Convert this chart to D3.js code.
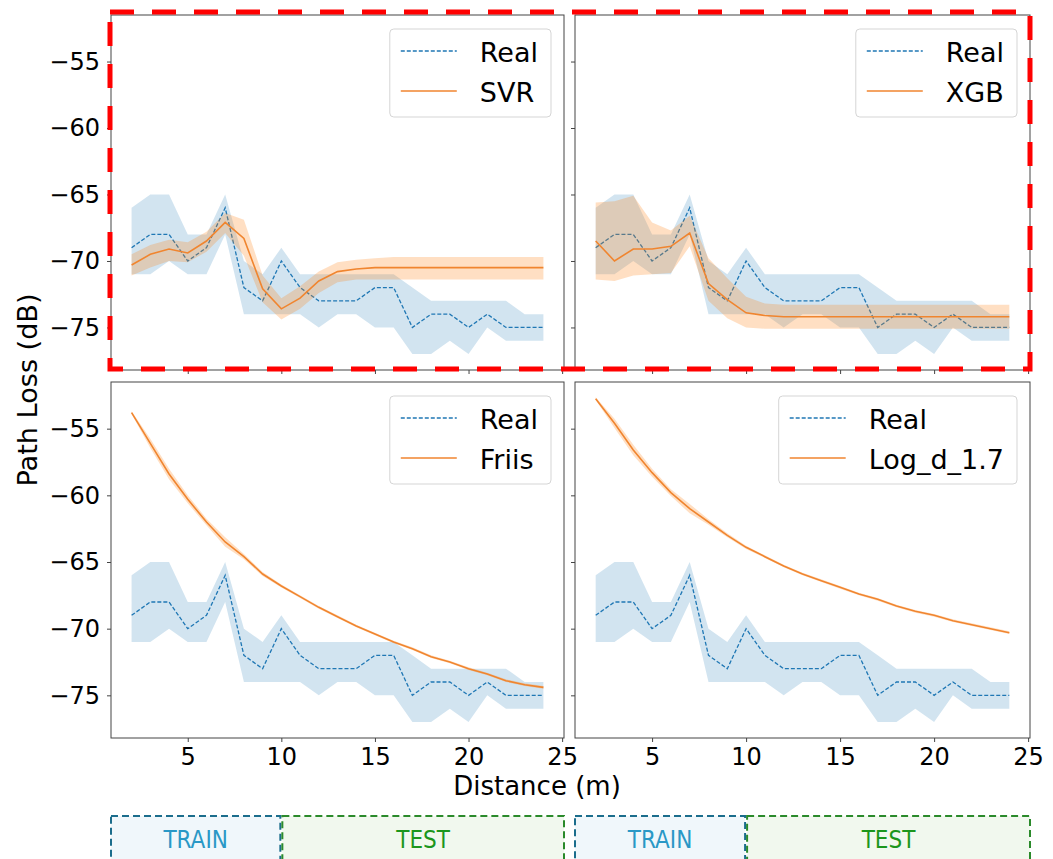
<!DOCTYPE html>
<html>
<head>
<meta charset="utf-8">
<script src="https://cdn.jsdelivr.net/npm/d3@7"></script>
<style>
  body { margin: 0; background: #fff; }
  svg { display: block; font-family: "DejaVu Sans", sans-serif; }
</style>
</head>
<body>
<div id="chart"></div>
<script>
// distances (m)
var distance = [2, 3, 4, 5, 6, 7, 8, 9, 10, 11, 12, 13, 14, 15, 16, 17, 18, 19, 20, 21, 22, 23, 24];

// measured path loss (dB)
var realMean = [-69, -68, -68, -70, -69, -66, -72, -73, -70, -72, -73, -73, -73, -72, -72, -75, -74, -74, -75, -74, -75, -75, -75];
var realHigh = [-66, -65, -65, -68, -68, -65, -70, -71, -69, -71, -71, -71, -71, -71, -71, -72, -73, -73, -73, -73, -73, -74, -74];
var realLow  = [-71, -71, -70, -71, -71, -68, -74, -74, -74, -74, -75, -74, -74, -75, -75, -77, -77, -76, -77, -75, -76, -76, -76];

// SVR
var svrMean = [-70.3, -69.5, -69.1, -69.4, -68.5, -67.1, -68.3, -72.1, -73.6, -72.8, -71.5, -70.8, -70.6, -70.5, -70.5, -70.5, -70.5, -70.5, -70.5, -70.5, -70.5, -70.5, -70.5];
var svrHigh = [-69.5, -68.8, -68.4, -68.6, -67.8, -66.4, -66.9, -71.1, -72.8, -71.9, -70.8, -70.1, -69.9, -69.8, -69.7, -69.7, -69.7, -69.7, -69.7, -69.7, -69.7, -69.7, -69.7];
var svrLow  = [-71.1, -70.5, -70.0, -70.1, -69.3, -67.9, -69.6, -73.1, -74.4, -73.6, -72.4, -71.6, -71.4, -71.4, -71.4, -71.4, -71.4, -71.4, -71.4, -71.4, -71.4, -71.4, -71.4];

// XGB
var xgbMean = [-68.5, -70.0, -69.1, -69.1, -68.9, -67.9, -71.7, -72.9, -73.9, -74.1, -74.2, -74.2, -74.2, -74.2, -74.2, -74.2, -74.2, -74.2, -74.2, -74.2, -74.2, -74.2, -74.2];
var xgbHigh = [-65.6, -65.5, -65.1, -67.1, -67.7, -66.6, -69.8, -71.3, -72.7, -73.2, -73.3, -73.3, -73.3, -73.3, -73.3, -73.3, -73.3, -73.3, -73.3, -73.3, -73.3, -73.3, -73.3];
var xgbLow  = [-71.4, -71.5, -71.1, -71.0, -70.9, -68.9, -73.0, -74.3, -75.0, -75.1, -75.1, -75.1, -75.1, -75.1, -75.1, -75.1, -75.1, -75.1, -75.1, -75.1, -75.1, -75.1, -75.1];

// Friis
var friisMean = [-53.8, -56.1, -58.4, -60.3, -62.0, -63.5, -64.6, -65.9, -66.8, -67.6, -68.4, -69.1, -69.8, -70.4, -71.0, -71.5, -72.1, -72.5, -73.0, -73.4, -73.9, -74.2, -74.4];
// Log-distance, exponent 1.7
var logMean = [-52.75, -54.6, -56.6, -58.3, -59.8, -61.0, -62.0, -63.0, -63.9, -64.6, -65.3, -65.9, -66.4, -66.9, -67.4, -67.8, -68.3, -68.7, -69.0, -69.4, -69.7, -70.0, -70.3];
// half width of the thin bands around the two formula curves
var curveSpread = [0.1, 0.35, 0.4, 0.3, 0.25, 0.35, 0.2, 0.15, 0.12, 0.1, 0.1, 0.1, 0.1, 0.1, 0.1, 0.1, 0.1, 0.1, 0.1, 0.1, 0.1, 0.1, 0.1];

var modelNames = ["SVR", "XGB", "Friis", "Log_d_1.7"];
var xTicks = [5, 10, 15, 20, 25];
var yTicks = [-55, -60, -65, -70, -75];
var splitNames = ["TRAIN", "TEST"];

function withSpread(mean) {
    return {
        mean: mean,
        low: mean.map(function(v, i) { return v - curveSpread[i]; }),
        high: mean.map(function(v, i) { return v + curveSpread[i]; })
    };
}
var friis = withSpread(friisMean);
var logd = withSpread(logMean);

var models = [
    { name: modelNames[0], mean: svrMean, low: svrLow, high: svrHigh },
    { name: modelNames[1], mean: xgbMean, low: xgbLow, high: xgbHigh },
    { name: modelNames[2], mean: friis.mean, low: friis.low, high: friis.high },
    { name: modelNames[3], mean: logd.mean, low: logd.low, high: logd.high }
];

var panels = [
    { x0: 111, x1: 564, y0: 15, y1: 370 },
    { x0: 575, x1: 1030, y0: 15, y1: 370 },
    { x0: 111, x1: 564, y0: 382, y1: 738 },
    { x0: 575, x1: 1030, y0: 382, y1: 738 }
];

var blue = "#1f77b4";
var orange = "#f0852f";

var svg = d3.select("#chart").append("svg")
    .attr("width", 1053)
    .attr("height", 859);

panels.forEach(function(p, k) {
    var m = models[k];
    var x = d3.scaleLinear().domain([0.9, 25.1]).range([p.x0, p.x1]);
    var y = d3.scaleLinear().domain([-78.2, -51.5]).range([p.y1, p.y0]);
    var g = svg.append("g");

    var area = function(lo, hi) {
        return d3.area()
            .x(function(d, i) { return x(distance[i]); })
            .y0(function(d, i) { return y(lo[i]); })
            .y1(function(d, i) { return y(hi[i]); });
    };
    var line = d3.line()
        .x(function(d, i) { return x(distance[i]); })
        .y(function(d) { return y(d); });

    g.append("path").attr("d", area(realLow, realHigh)(distance))
        .attr("fill", blue).attr("fill-opacity", 0.2);
    g.append("path").attr("d", line(realMean))
        .attr("fill", "none").attr("stroke", blue).attr("stroke-width", 1.3)
        .attr("stroke-dasharray", "4,2");
    g.append("path").attr("d", area(m.low, m.high)(distance))
        .attr("fill", "#ff7f0e").attr("fill-opacity", 0.25);
    g.append("path").attr("d", line(m.mean))
        .attr("fill", "none").attr("stroke", orange).attr("stroke-width", 1.6);

    // frame
    g.append("rect")
        .attr("x", p.x0).attr("y", p.y0)
        .attr("width", p.x1 - p.x0).attr("height", p.y1 - p.y0)
        .attr("fill", "none").attr("stroke", "#444").attr("stroke-width", 1);

    var showY = (k % 2 === 0);
    var showX = (k >= 2);

    var ya = g.append("g").attr("transform", "translate(" + p.x0 + ",0)")
        .call(d3.axisLeft(y).tickValues(yTicks).tickSize(4).tickPadding(7)
            .tickFormat(showY ? d3.format("d") : ""));
    ya.select(".domain").remove();
    ya.selectAll("line").attr("stroke", "#444");
    ya.selectAll("text").attr("font-size", 24).attr("fill", "#000")
        .attr("font-family", "DejaVu Sans");

    var xa = g.append("g").attr("transform", "translate(0," + p.y1 + ")")
        .call(d3.axisBottom(x).tickValues(xTicks).tickSize(4).tickPadding(6)
            .tickFormat(showX ? d3.format("d") : ""));
    xa.select(".domain").remove();
    xa.selectAll("line").attr("stroke", "#444");
    xa.selectAll("text").attr("font-size", 24).attr("fill", "#000")
        .attr("font-family", "DejaVu Sans");

    // legend
    var leg = g.append("g");
    var box = leg.append("rect");
    var t1 = leg.append("text").text("Real");
    var t2 = leg.append("text").text(m.name);
    leg.selectAll("text").attr("font-size", 27).attr("fill", "#000");
    var tw = Math.max(t1.node().getComputedTextLength(), t2.node().getComputedTextLength());
    var bw = 90 + tw + 13;
    var bx = p.x1 - 13 - bw;
    var by = p.y0 + 14;
    box.attr("x", bx).attr("y", by).attr("width", bw).attr("height", 88)
        .attr("rx", 4).attr("fill", "#fff").attr("fill-opacity", 0.85)
        .attr("stroke", "#d5d5d5");
    leg.append("line").attr("x1", bx + 11).attr("x2", bx + 67)
        .attr("y1", by + 22).attr("y2", by + 22)
        .attr("stroke", blue).attr("stroke-width", 1.3).attr("stroke-dasharray", "4,2");
    leg.append("line").attr("x1", bx + 11).attr("x2", bx + 67)
        .attr("y1", by + 62).attr("y2", by + 62)
        .attr("stroke", orange).attr("stroke-width", 1.6);
    t1.attr("x", bx + 90).attr("y", by + 33);
    t2.attr("x", bx + 90).attr("y", by + 73);

    // train / test boxes under the bottom panels
    if (showX) {
        var parts = [
            { name: splitNames[0], a: p.x0, b: x(10) - 1, stroke: "#1b6d8c", fill: "#f0f7fb", text: "#2a98c6" },
            { name: splitNames[1], a: x(10) + 1, b: p.x1, stroke: "#2b8a2b", fill: "#f1f8ee", text: "#1c961c" }
        ];
        parts.forEach(function(s) {
            g.append("rect").attr("x", s.a).attr("y", 816)
                .attr("width", s.b - s.a).attr("height", 60)
                .attr("fill", s.fill).attr("stroke", s.stroke)
                .attr("stroke-width", 2).attr("stroke-dasharray", "7,4");
            g.append("text").attr("x", (s.a + s.b) / 2).attr("y", 848)
                .attr("text-anchor", "middle").attr("font-size", 24)
                .attr("font-family", "DejaVu Sans Condensed, DejaVu Sans")
                .attr("fill", s.text).text(s.name);
        });
    }
});

// axis titles
svg.append("text")
    .attr("transform", "translate(37,390) rotate(-90)")
    .attr("text-anchor", "middle")
    .attr("font-size", 26)
    .attr("textLength", 193)
    .attr("lengthAdjust", "spacingAndGlyphs")
    .text("Path Loss (dB)");

svg.append("text")
    .attr("x", 537).attr("y", 795)
    .attr("text-anchor", "middle")
    .attr("font-size", 26)
    .text("Distance (m)");

// highlight around the two learned models
svg.append("rect")
    .attr("x", 110).attr("y", 12)
    .attr("width", 920).attr("height", 357)
    .attr("fill", "none").attr("stroke", "#ff0000")
    .attr("stroke-width", 5).attr("stroke-dasharray", "24,18");
</script>
</body>
</html>
